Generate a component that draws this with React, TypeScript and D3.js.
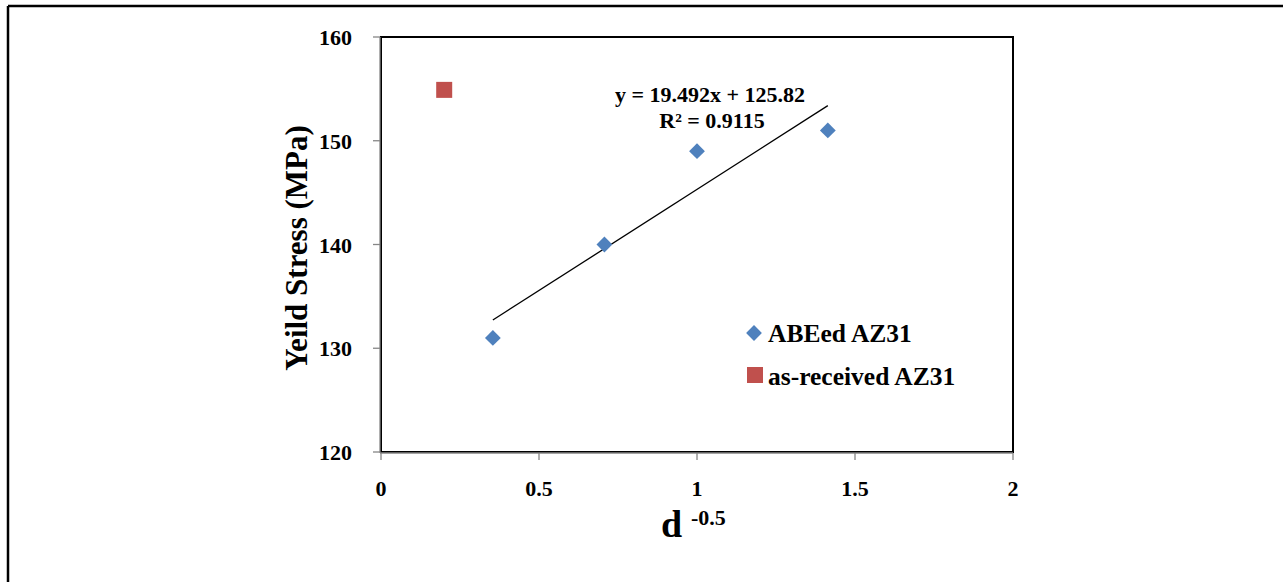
import React from "react";
import * as d3 from "d3";

const abeX = [0.354, 0.707, 1.0, 1.414];
const abeY = [131, 140, 149, 151];
const asRecX = [0.2];
const asRecY = [155];
const xTicks = [0, 0.5, 1, 1.5, 2];
const yTicks = [120, 130, 140, 150, 160];
const slope = 19.492;
const intercept = 125.82;
const eqText = "y = 19.492x + 125.82";
const r2Text = "R² = 0.9115";
const legendLabels = ["ABEed AZ31", "as-received AZ31"];

const W = 1283, H = 582;
const L = 381, R = 1013, T = 37, B = 452;
const FONT = "'Liberation Serif', 'Times New Roman', serif";

export default function App() {
  const x = d3.scaleLinear().domain([0, 2]).range([L, R]);
  const y = d3.scaleLinear().domain([120, 160]).range([B, T]);
  const diamond = d3.symbol().type(d3.symbolSquare).size(125)();
  const x0 = d3.min(abeX)!, x1 = d3.max(abeX)!;
  const line = d3.line<number>().x(d => x(d)).y(d => y(slope * d + intercept));
  return (
    <svg width={W} height={H} style={{ position: "absolute", left: 0, top: 0, background: "#fff" }} fontFamily={FONT}>
      <rect x={0} y={0} width={W} height={H} fill="#fff" />
      <line x1={8} y1={6} x2={W} y2={6} stroke="#000" strokeWidth={2.5} />
      <line x1={8} y1={6} x2={8} y2={H} stroke="#000" strokeWidth={2.5} />
      <rect x={L} y={T} width={R - L} height={B - T} fill="#fff" stroke="#000" strokeWidth={2} />
      <line x1={L - 1} y1={T} x2={L - 1} y2={B + 1} stroke="#868686" strokeWidth={1.3} />
      <line x1={L - 1} y1={B + 1} x2={R} y2={B + 1} stroke="#868686" strokeWidth={1.3} />
      {yTicks.map(t => (
        <g key={"y" + t}>
          <line x1={L - 8} x2={L - 1} y1={y(t)} y2={y(t)} stroke="#868686" strokeWidth={1.3} />
          <text x={L - 29} y={y(t) + 8} textAnchor="end" fontSize={22} fontWeight="bold">{t}</text>
        </g>
      ))}
      {xTicks.map(t => (
        <g key={"x" + t}>
          <line x1={x(t)} x2={x(t)} y1={B + 1} y2={B + 8} stroke="#868686" strokeWidth={1.3} />
          <text x={x(t)} y={496} textAnchor="middle" fontSize={22} fontWeight="bold">{t}</text>
        </g>
      ))}
      <text transform={`translate(307,248) rotate(-90)`} textAnchor="middle" fontSize={31} fontWeight="bold">Yeild Stress (MPa)</text>
      <text x={661} y={537} fontSize={38} fontWeight="bold">d</text>
      <text x={691} y={525} fontSize={22} fontWeight="bold">-0.5</text>
      <path d={line([x0, x1])!} stroke="#000" strokeWidth={1.3} fill="none" />
      {abeX.map((v, i) => (
        <path key={"a" + i} d={diamond} transform={`translate(${x(v)},${y(abeY[i])}) rotate(45)`} fill="#4f81bd" />
      ))}
      {asRecX.map((v, i) => (
        <rect key={"r" + i} x={x(v) - 8} y={y(asRecY[i]) - 7} width={16} height={16} fill="#c0504d" />
      ))}
      <text x={710} y={102} textAnchor="middle" fontSize={22} fontWeight="bold">{eqText}</text>
      <text x={712} y={128} textAnchor="middle" fontSize={22} fontWeight="bold">{r2Text}</text>
      <path d={diamond} transform={`translate(754,333) rotate(45)`} fill="#4f81bd" />
      <text x={768} y={342} fontSize={25.5} fontWeight="bold">{legendLabels[0]}</text>
      <rect x={747} y={367} width={16} height={16} fill="#c0504d" />
      <text x={768} y={385} fontSize={25.5} fontWeight="bold">{legendLabels[1]}</text>
    </svg>
  );
}
